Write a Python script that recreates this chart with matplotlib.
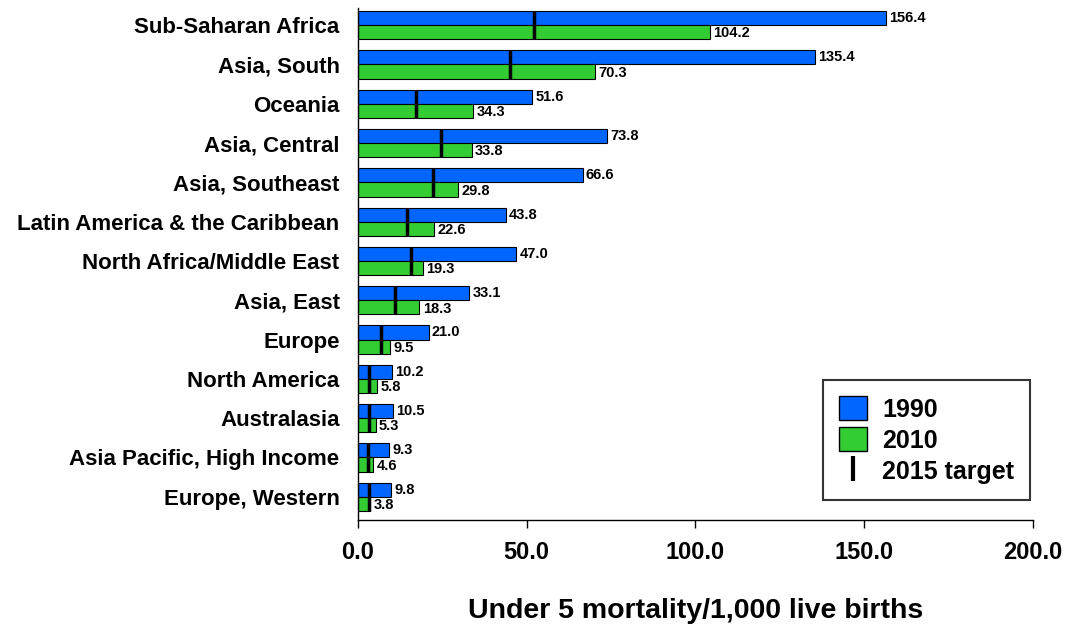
import matplotlib
matplotlib.use("Agg")
import matplotlib.pyplot as plt
import numpy as np
from matplotlib.patches import Patch
from matplotlib.lines import Line2D

plt.rcParams['font.family'] = ['Liberation Sans', 'DejaVu Sans']
plt.rcParams['font.weight'] = 'bold'

regions = ["Sub-Saharan Africa", "Asia, South", "Oceania", "Asia, Central",
           "Asia, Southeast", "Latin America & the Caribbean",
           "North Africa/Middle East", "Asia, East", "Europe", "North America",
           "Australasia", "Asia Pacific, High Income", "Europe, Western"]
v1990 = [156.4, 135.4, 51.6, 73.8, 66.6, 43.8, 47.0, 33.1, 21.0, 10.2, 10.5, 9.3, 9.8]
v2010 = [104.2, 70.3, 34.3, 33.8, 29.8, 22.6, 19.3, 18.3, 9.5, 5.8, 5.3, 4.6, 3.8]
target2015 = [52.1, 45.1, 17.2, 24.6, 22.2, 14.6, 15.7, 11.0, 7.0, 3.4, 3.5, 3.1, 3.3]
xticks = [0, 50, 100, 150, 200]

blue = '#0066FF'
green = '#33CC33'

fig = plt.figure(figsize=(10.74, 6.27), dpi=100)
ax = fig.add_axes([0.333, 0.171, 0.629, 0.816])

n = len(regions)
y = np.arange(n)
h = 0.36
ax.barh(y - h/2, v1990, height=h, color=blue, edgecolor='black', linewidth=0.8)
ax.barh(y + h/2, v2010, height=h, color=green, edgecolor='black', linewidth=0.8)
ax.vlines(target2015, y - h, y + h, colors='black', linewidth=2.5)

for yi, a, b in zip(y, v1990, v2010):
    ax.text(a + 1, yi - h/2, f"{a:.1f}", fontsize=10.5, fontweight='bold', va='center', ha='left')
    ax.text(b + 1, yi + h/2 + 0.03, f"{b:.1f}", fontsize=10.5, fontweight='bold', va='center', ha='left')

ax.set_yticks(y)
ax.set_yticklabels(regions, fontsize=16, fontweight='bold')
ax.tick_params(axis='y', length=0, pad=13)
ax.set_ylim(12.585, -0.432)
ax.set_xlim(0, 200)
ax.set_xticks(xticks)
ax.set_xticklabels([f"{t:.1f}" for t in xticks], fontsize=17, fontweight='bold')
ax.tick_params(axis='x', length=6, width=1, pad=9)
ax.set_xlabel("Under 5 mortality/1,000 live births", fontsize=20.5, fontweight='bold', labelpad=25)

for s in ['top', 'right']:
    ax.spines[s].set_visible(False)
for s in ['left', 'bottom']:
    ax.spines[s].set_linewidth(1)

handles = [Patch(facecolor=blue, edgecolor='black', label='1990'),
           Patch(facecolor=green, edgecolor='black', label='2010'),
           Line2D([], [], color='black', marker='|', markersize=18, markeredgewidth=3,
                  linestyle='None', label='2015 target')]
leg = ax.legend(handles=handles, loc='lower right', bbox_to_anchor=(0.9955, 0.039),
                borderaxespad=0,
                fontsize=18, frameon=True, fancybox=False, edgecolor='black',
                handlelength=1.1, handleheight=1.1, borderpad=0.65, labelspacing=0.22,
                handletextpad=0.6)
leg.get_frame().set_linewidth(1.5)
for t in leg.get_texts():
    t.set_fontweight('bold')

fig.savefig("out.png", dpi=100)
